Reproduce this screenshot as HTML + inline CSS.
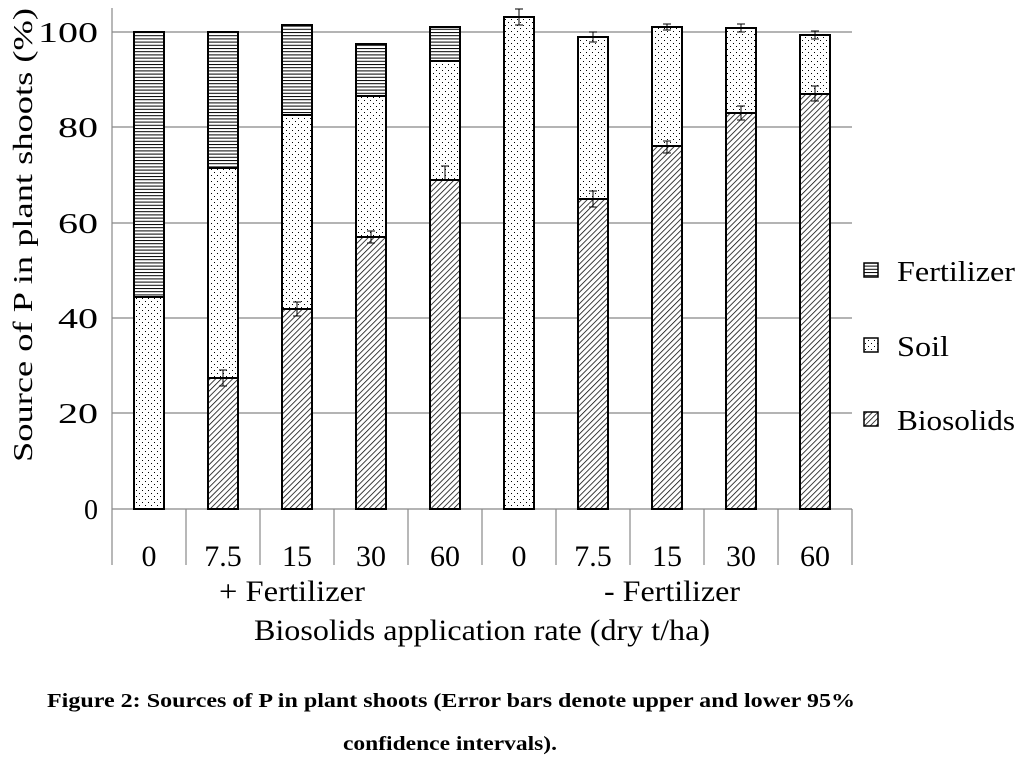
<!DOCTYPE html><html><head><meta charset="utf-8"><style>body{margin:0;background:#fff}</style></head><body>
<svg width="1028" height="759" xmlns="http://www.w3.org/2000/svg" font-family="Liberation Serif, serif">
<defs>
<pattern id="h" width="6" height="3.2" patternUnits="userSpaceOnUse"><rect width="6" height="3.2" fill="#fff"/><line x1="0" y1="0.5" x2="6" y2="0.5" stroke="#000" stroke-width="1"/></pattern>
<pattern id="d" width="6" height="6" patternUnits="userSpaceOnUse"><rect width="6" height="6" fill="#fff"/><rect x="1" y="1" width="1" height="1" fill="#000"/><rect x="4" y="4" width="1" height="1" fill="#000"/></pattern>
<pattern id="s" width="4" height="4" patternUnits="userSpaceOnUse" patternTransform="rotate(45)"><rect width="4" height="4" fill="#fff"/><line x1="0" y1="0" x2="0" y2="4" stroke="#000" stroke-width="1.5"/></pattern>
</defs>
<g stroke="#888" stroke-width="1.2">
<line x1="112" y1="32" x2="852" y2="32"/><line x1="112" y1="127" x2="852" y2="127"/><line x1="112" y1="223" x2="852" y2="223"/><line x1="112" y1="318" x2="852" y2="318"/><line x1="112" y1="413" x2="852" y2="413"/><line x1="112" y1="509" x2="852" y2="509"/>
<line x1="112" y1="8" x2="112" y2="565"/>
<line x1="186" y1="509" x2="186" y2="565"/><line x1="260" y1="509" x2="260" y2="565"/><line x1="334" y1="509" x2="334" y2="565"/><line x1="408" y1="509" x2="408" y2="565"/><line x1="482" y1="509" x2="482" y2="565"/><line x1="556" y1="509" x2="556" y2="565"/><line x1="630" y1="509" x2="630" y2="565"/><line x1="704" y1="509" x2="704" y2="565"/><line x1="778" y1="509" x2="778" y2="565"/><line x1="852" y1="509" x2="852" y2="565"/>
</g>
<g stroke="#000" stroke-width="2">
<rect x="134" y="297" width="30" height="212" fill="url(#d)"/><rect x="134" y="32" width="30" height="265" fill="url(#h)"/>
<rect x="208" y="378" width="30" height="131" fill="url(#s)"/><rect x="208" y="168" width="30" height="210" fill="url(#d)"/><rect x="208" y="32" width="30" height="136" fill="url(#h)"/>
<rect x="282" y="309" width="30" height="200" fill="url(#s)"/><rect x="282" y="115" width="30" height="194" fill="url(#d)"/><rect x="282" y="25" width="30" height="90" fill="url(#h)"/>
<rect x="356" y="237" width="30" height="272" fill="url(#s)"/><rect x="356" y="96" width="30" height="141" fill="url(#d)"/><rect x="356" y="44" width="30" height="52" fill="url(#h)"/>
<rect x="430" y="180" width="30" height="329" fill="url(#s)"/><rect x="430" y="61" width="30" height="119" fill="url(#d)"/><rect x="430" y="27" width="30" height="34" fill="url(#h)"/>
<rect x="504" y="17" width="30" height="492" fill="url(#d)"/>
<rect x="578" y="199" width="30" height="310" fill="url(#s)"/><rect x="578" y="37" width="30" height="162" fill="url(#d)"/>
<rect x="652" y="146" width="30" height="363" fill="url(#s)"/><rect x="652" y="27" width="30" height="119" fill="url(#d)"/>
<rect x="726" y="113" width="30" height="396" fill="url(#s)"/><rect x="726" y="28" width="30" height="85" fill="url(#d)"/>
<rect x="800" y="94" width="30" height="415" fill="url(#s)"/><rect x="800" y="35" width="30" height="59" fill="url(#d)"/>
</g>
<g stroke="#000" stroke-width="1">
<path d="M223 370v16M219 370h8M219 386h8"/><path d="M297 302v14M293 302h8M293 316h8"/><path d="M371 231v12M367 231h8M367 243h8"/><path d="M445 166v14M441 166h8M441 180h8"/>
<path d="M519 9v16M515 9h8M515 25h8"/><path d="M593 191v16M589 191h8M589 207h8"/><path d="M593 32v10M589 32h8M589 42h8"/>
<path d="M667 141v12M663 141h8M663 153h8"/><path d="M667 24v6M663 24h8M663 30h8"/><path d="M741 106v14M737 106h8M737 120h8"/><path d="M741 24v8M737 24h8M737 32h8"/>
<path d="M815 86v15M811 86h8M811 101h8"/><path d="M815 31v8M811 31h8M811 39h8"/>
</g>
<g font-size="28" text-anchor="end"><text x="98" y="42" textLength="60" lengthAdjust="spacingAndGlyphs">100</text><text x="98" y="137" textLength="40" lengthAdjust="spacingAndGlyphs">80</text><text x="98" y="233" textLength="40" lengthAdjust="spacingAndGlyphs">60</text><text x="98" y="328" textLength="40" lengthAdjust="spacingAndGlyphs">40</text><text x="98" y="423" textLength="40" lengthAdjust="spacingAndGlyphs">20</text><text x="98" y="519">0</text></g>
<g font-size="30" text-anchor="middle"><text x="149" y="566">0</text><text x="223" y="566">7.5</text><text x="297" y="566">15</text><text x="371" y="566">30</text><text x="445" y="566">60</text><text x="519" y="566">0</text><text x="593" y="566">7.5</text><text x="667" y="566">15</text><text x="741" y="566">30</text><text x="815" y="566">60</text>
<text x="292" y="601" textLength="146" lengthAdjust="spacingAndGlyphs">+ Fertilizer</text><text x="672" y="601" textLength="136" lengthAdjust="spacingAndGlyphs">- Fertilizer</text><text x="482" y="640" textLength="456" lengthAdjust="spacingAndGlyphs">Biosolids application rate (dry t/ha)</text></g>
<text transform="translate(32,235) rotate(-90)" font-size="27" text-anchor="middle" textLength="454" lengthAdjust="spacingAndGlyphs">Source of  P in plant shoots  (%)</text>
<g stroke="#000" stroke-width="1.5"><rect x="864" y="263" width="14" height="14" fill="url(#h)"/><rect x="864" y="338" width="14" height="14" fill="url(#d)"/><rect x="864" y="412" width="14" height="14" fill="url(#s)"/></g>
<g font-size="28"><text x="897" y="281" textLength="118" lengthAdjust="spacingAndGlyphs">Fertilizer</text><text x="897" y="356" textLength="52" lengthAdjust="spacingAndGlyphs">Soil</text><text x="897" y="430" textLength="118" lengthAdjust="spacingAndGlyphs">Biosolids</text></g>
<g font-size="20" font-weight="bold" text-anchor="middle"><text x="451" y="707" textLength="808" lengthAdjust="spacingAndGlyphs">Figure 2: Sources of P in plant shoots (Error bars denote upper and lower 95%</text><text x="450" y="750" textLength="214" lengthAdjust="spacingAndGlyphs">confidence intervals).</text></g>
</svg></body></html>
